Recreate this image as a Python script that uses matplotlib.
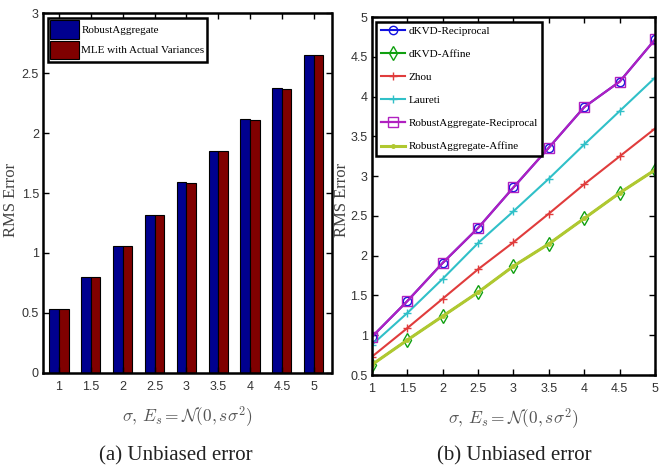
import matplotlib
matplotlib.use("Agg")
import matplotlib.pyplot as plt
import numpy as np

sigma = [1, 1.5, 2, 2.5, 3, 3.5, 4, 4.5, 5]
bar_robust = [0.53, 0.80, 1.06, 1.32, 1.59, 1.85, 2.12, 2.38, 2.65]
bar_mle = [0.53, 0.80, 1.06, 1.32, 1.58, 1.85, 2.11, 2.37, 2.65]

dkvd_recip = [0.98, 1.43, 1.91, 2.35, 2.86, 3.36, 3.87, 4.19, 4.72]
dkvd_affine = [0.63, 0.94, 1.24, 1.54, 1.87, 2.15, 2.47, 2.79, 3.08]
zhou = [0.73, 1.09, 1.46, 1.83, 2.17, 2.53, 2.90, 3.25, 3.60]
laureti = [0.88, 1.28, 1.71, 2.16, 2.56, 2.97, 3.40, 3.82, 4.24]
ra_recip = [0.98, 1.43, 1.91, 2.35, 2.86, 3.36, 3.87, 4.19, 4.72]
ra_affine = [0.63, 0.94, 1.24, 1.54, 1.87, 2.15, 2.47, 2.79, 3.08]

xticklabels = ['1', '1.5', '2', '2.5', '3', '3.5', '4', '4.5', '5']

plt.rcParams['mathtext.fontset'] = 'cm'
tickfont = 'Liberation Sans Narrow'
from matplotlib import font_manager
names = {f.name for f in font_manager.fontManager.ttflist}
if tickfont not in names:
    tickfont = 'Liberation Sans'

W, H = 663, 472
fig = plt.figure(figsize=(6.63, 4.72), dpi=100)
ax1 = fig.add_axes([0.065, 0.210, 0.435, 0.762])
ax2 = fig.add_axes([0.561, 0.2055, 0.427, 0.758])

def style(ax):
    for s in ax.spines.values():
        s.set_linewidth(1.8)
    ax.tick_params(direction='in', top=True, right=True, length=4, width=1,
                   labelsize=9, pad=3)
    ax.tick_params(axis='x', pad=6)
    for lab in ax.get_xticklabels() + ax.get_yticklabels():
        lab.set_family(tickfont)
        lab.set_color('#333333')

w = 0.15
x = np.array(sigma)
ax1.bar(x - w/2, bar_robust, w, color='#00008F', edgecolor='black', linewidth=0.8, label='RobustAggregate')
ax1.bar(x + w/2, bar_mle, w, color='#800000', edgecolor='black', linewidth=0.8, label='MLE with Actual Variances')
ax1.set_xlim(0.75, 5.28)
ax1.set_ylim(0, 3)
ax1.set_xticks(sigma)
ax1.set_xticklabels(xticklabels)
ax1.set_yticks([0, 0.5, 1, 1.5, 2, 2.5, 3])
ax1.set_yticklabels(['0', '0.5', '1', '1.5', '2', '2.5', '3'])
style(ax1)
ax1.set_xlabel(r'$\sigma,\, E_s = \mathcal{N}(0, s\sigma^2)$', fontsize=12.5, color='#555555', labelpad=8)
leg1 = ax1.legend(loc='upper left', prop={'family': 'Liberation Serif', 'size': 8},
                  fancybox=False, edgecolor='black', framealpha=1, borderaxespad=0.4,
                  handlelength=2.6, handleheight=2.2, borderpad=0.25, labelspacing=0.15, handletextpad=0.2)
leg1.get_frame().set_linewidth(1.8)

ax2.plot(sigma, dkvd_recip, color='#1010E0', marker='o', mfc='none', ms=6, lw=1.5, label='dKVD-Reciprocal')
ax2.plot(sigma, dkvd_affine, color='#10A010', marker='d', mfc='none', ms=7, lw=1.5, label='dKVD-Affine')
ax2.plot(sigma, zhou, color='#E03C3C', marker='+', ms=6, lw=1.5, label='Zhou')
ax2.plot(sigma, laureti, color='#30C0C8', marker='+', ms=6, lw=1.5, label='Laureti')
ax2.plot(sigma, ra_recip, color='#B020C0', marker='s', mfc='none', ms=7, lw=1.6, label='RobustAggregate-Reciprocal')
ax2.plot(sigma, ra_affine, color='#B0C830', marker='.', ms=5, lw=2.2, label='RobustAggregate-Affine')
ax2.set_xlim(1, 5)
ax2.set_ylim(0.5, 5)
ax2.set_xticks(sigma)
ax2.set_xticklabels(xticklabels)
ax2.set_yticks([0.5, 1, 1.5, 2, 2.5, 3, 3.5, 4, 4.5, 5])
ax2.set_yticklabels(['0.5', '1', '1.5', '2', '2.5', '3', '3.5', '4', '4.5', '5'])
style(ax2)
ax2.set_xlabel(r'$\sigma,\, E_s = \mathcal{N}(0, s\sigma^2)$', fontsize=12.5, color='#555555', labelpad=8)
leg2 = ax2.legend(loc='upper left', prop={'family': 'Liberation Serif', 'size': 8},
                  fancybox=False, edgecolor='black', framealpha=1, borderaxespad=0.4,
                  handlelength=2.2, borderpad=0.4, labelspacing=1.2, handletextpad=0.3)
leg2.get_frame().set_linewidth(1.8)

fig.text(11 / W, 1 - 200 / H, 'RMS Error', family='Liberation Serif', fontsize=12,
         color='#444444', rotation=90, ha='center', va='center')
fig.text(342 / W, 1 - 200 / H, 'RMS Error', family='Liberation Serif', fontsize=12,
         color='#444444', rotation=90, ha='center', va='center')

fig.text(0.265, 0.025, '(a) Unbiased error', family='Liberation Serif', fontsize=15, ha='center', color='#222222')
fig.text(0.775, 0.025, '(b) Unbiased error', family='Liberation Serif', fontsize=15, ha='center', color='#222222')

fig.savefig('out.png', dpi=100)
